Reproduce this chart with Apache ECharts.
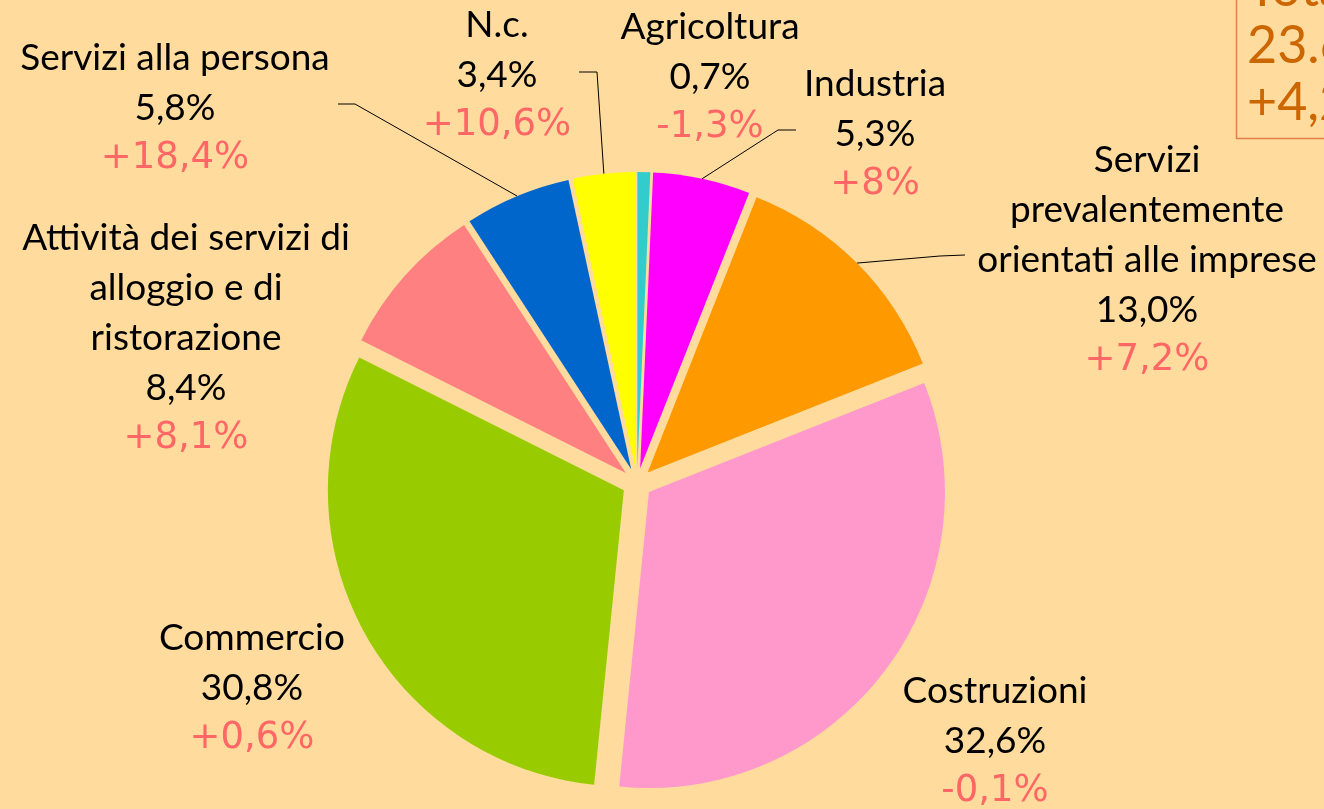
<!DOCTYPE html>
<html>
<head>
<meta charset="utf-8">
<script src="https://cdn.jsdelivr.net/npm/echarts@6/dist/echarts.min.js"></script>
<style>
  html, body { margin: 0; padding: 0; background: #FFDB9D; }
  #chart { width: 1324px; height: 809px; }
</style>
</head>
<body>
<div id="chart"></div>
<script>
// sectors, clockwise from 12 o'clock
const sectors = [
  "Agricoltura",
  "Industria",
  "Servizi\nprevalentemente\norientati alle imprese",
  "Costruzioni",
  "Commercio",
  "Attività dei servizi di\nalloggio e di\nristorazione",
  "Servizi alla persona",
  "N.c."
]
const shares = [0.7, 5.3, 13.0, 32.6, 30.8, 8.4, 5.8, 3.4]
const changes = [-1.3, 8, 7.2, -0.1, 0.6, 8.1, 18.4, 10.6]
const colors = ["#33CCCC", "#FF00FF", "#FF9900", "#FF99CC", "#99CC00", "#FF8080", "#0066CC", "#FFFF00"]

const totalLines = ["Totale", "23.654", "+4,2%"]

// label layout (pixel centres of each label block) and leader line elbows
const labelPos = [[710, 77], [875, 134], [1147, 260], [995, 741], [252, 688], [186, 338], [175, 108], [497, 75]]
const lineElbow = { 1: [[778, 130], [796, 130]], 2: [[940, 256], [965, 255]], 6: [[355, 104], [338, 104]], 7: [[597, 72], [579, 72]] }

const CX = 637, CY = 483, R = 296, OFFSET = 15

const fmtPct = v => v.toFixed(1).replace(".", ",") + "%"
const fmtChg = v => (v > 0 ? "+" : "") + String(v).replace(".", ",") + "%"

const chart = echarts.init(document.getElementById("chart"))

const total = shares.reduce((a, b) => a + b, 0)
const midAngles = []
let acc = 0
shares.forEach(v => {
  midAngles.push(((acc + v / 2) / total) * Math.PI * 2)
  acc += v
})

const rich = {
  n: { fontFamily: "Lato", fontSize: 37, fill: "#000", lineHeight: 50, align: "center" },
  c: { fontFamily: "DejaVu Sans", fontSize: 37, fill: "#FF6666", lineHeight: 50, align: "center" },
}

const labels = sectors.map((name, i) => {
  const lines = name.split("\n").map(s => "{n|" + s + "}")
  lines.push("{n|" + fmtPct(shares[i]) + "}", "{c|" + fmtChg(changes[i]) + "}")
  return {
    type: "text",
    x: labelPos[i][0],
    y: labelPos[i][1],
    silent: true,
    style: {
      text: lines.join("\n"),
      rich: rich,
      textAlign: "center",
      textVerticalAlign: "middle",
    },
  }
})

const leaders = Object.keys(lineElbow).map(k => {
  const i = +k
  const a = midAngles[i]
  const anchor = [CX + Math.sin(a) * (R + OFFSET), CY - Math.cos(a) * (R + OFFSET)]
  return {
    type: "polyline",
    silent: true,
    shape: { points: [anchor, lineElbow[i][0], lineElbow[i][1]] },
    style: { stroke: "#000", lineWidth: 1, fill: null },
  }
})

const option = {
  backgroundColor: "#FFDB9D",
  animation: false,
  graphic: [
    {
      type: "rect",
      shape: { x: 1236.5, y: -5, width: 120, height: 143.5 },
      style: { fill: "none", stroke: "#E0804A", lineWidth: 1.5 },
    },
    ...totalLines.map((t, i) => ({
      type: "text",
      x: 1247,
      y: -11 + i * 57,
      style: {
        text: t,
        font: "52px Lato",
        fill: "#CC6600",
        textAlign: "left",
        textVerticalAlign: "middle",
      },
    })),
    ...leaders,
    ...labels,
  ],
  series: [
    {
      type: "pie",
      center: [CX, CY],
      radius: R,
      startAngle: 90,
      clockwise: true,
      selectedMode: "multiple",
      selectedOffset: OFFSET,
      emphasis: { disabled: true },
      label: { show: false },
      labelLine: { show: false },
      data: sectors.map((name, i) => ({
        name: name,
        value: shares[i],
        selected: true,
        itemStyle: { color: colors[i] },
      })),
    },
  ],
}

chart.setOption(option)
</script>
</body>
</html>
